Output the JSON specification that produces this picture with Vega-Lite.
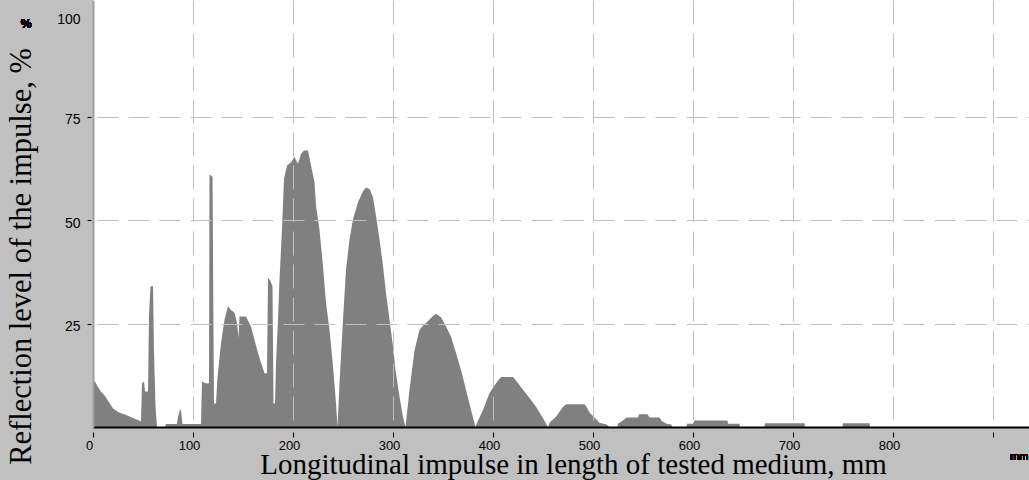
{
  "$schema": "https://vega.github.io/schema/vega-lite/v6.json",
  "width": 936,
  "height": 427,
  "autosize": {"type": "none"},
  "padding": {"left": 93, "top": 0, "right": 0, "bottom": 53},
  "background": "#c0c0c0",
  "config": {"view": {"fill": "#ffffff", "stroke": null}},
  "data": {"values": [
    {"mm":0,"pct":11},{"mm":2,"pct":11},{"mm":4,"pct":10},{"mm":8,"pct":8.5},{"mm":12,"pct":7.5},{"mm":16,"pct":6},{"mm":20,"pct":4.5},{"mm":26,"pct":3.5},{"mm":32,"pct":3},{"mm":40,"pct":2.2},{"mm":46,"pct":1.6},{"mm":48,"pct":1.3},{"mm":49,"pct":10.5},{"mm":51,"pct":11},{"mm":52,"pct":8.6},{"mm":55,"pct":8.6},{"mm":56,"pct":27},{"mm":57.5,"pct":34},{"mm":60,"pct":34},{"mm":61,"pct":18},{"mm":62.5,"pct":5},{"mm":64,"pct":0},{"mm":72,"pct":0},{"mm":73,"pct":0.7},{"mm":84,"pct":0.7},{"mm":85,"pct":2.5},{"mm":87,"pct":4.2},{"mm":88,"pct":4},{"mm":89.5,"pct":0.7},{"mm":108,"pct":0.7},{"mm":109,"pct":11},{"mm":113,"pct":10.5},{"mm":116,"pct":10.6},{"mm":116.5,"pct":61},{"mm":119.5,"pct":60.5},{"mm":120.5,"pct":23},{"mm":121,"pct":5.7},{"mm":123,"pct":5.7},{"mm":124.5,"pct":12},{"mm":128,"pct":20.3},{"mm":131.5,"pct":26},{"mm":135,"pct":29.2},{"mm":138,"pct":28.3},{"mm":141.5,"pct":27.6},{"mm":144,"pct":25.2},{"mm":145.5,"pct":21.6},{"mm":146.5,"pct":26.7},{"mm":153,"pct":26.7},{"mm":158,"pct":24.3},{"mm":161.5,"pct":21},{"mm":165,"pct":17.9},{"mm":168,"pct":15.5},{"mm":171.5,"pct":13},{"mm":174,"pct":13},{"mm":175,"pct":36},{"mm":177,"pct":35.5},{"mm":179.5,"pct":34},{"mm":180.5,"pct":5.7},{"mm":182,"pct":5.7},{"mm":183,"pct":15.5},{"mm":185,"pct":26},{"mm":186.5,"pct":35.7},{"mm":189,"pct":47.8},{"mm":191,"pct":60},{"mm":194,"pct":63.2},{"mm":198,"pct":64},{"mm":201.5,"pct":65.3},{"mm":203,"pct":64.5},{"mm":205,"pct":63.6},{"mm":208,"pct":66},{"mm":211,"pct":66.8},{"mm":215,"pct":66.8},{"mm":218,"pct":63.2},{"mm":221.5,"pct":59.2},{"mm":223,"pct":53.5},{"mm":226.5,"pct":47.7},{"mm":230,"pct":38.8},{"mm":233,"pct":30},{"mm":236.5,"pct":23.5},{"mm":240,"pct":14.6},{"mm":243,"pct":5.7},{"mm":244.5,"pct":0},{"mm":246.5,"pct":10.6},{"mm":250,"pct":26},{"mm":253,"pct":38},{"mm":256.5,"pct":45.3},{"mm":260,"pct":50.2},{"mm":265,"pct":54.3},{"mm":270,"pct":57},{"mm":273,"pct":57.9},{"mm":276.5,"pct":57.5},{"mm":280,"pct":55.5},{"mm":283,"pct":51},{"mm":286.5,"pct":45.4},{"mm":290,"pct":38.9},{"mm":293,"pct":32.4},{"mm":296.5,"pct":25.9},{"mm":300,"pct":19.5},{"mm":302.5,"pct":13.8},{"mm":306.5,"pct":7.3},{"mm":310,"pct":2.4},{"mm":312.5,"pct":0},{"mm":316.5,"pct":9},{"mm":321.5,"pct":18.5},{"mm":326.5,"pct":23.5},{"mm":330,"pct":24.5},{"mm":335,"pct":25.6},{"mm":340,"pct":26.8},{"mm":343,"pct":27.4},{"mm":348,"pct":26.5},{"mm":353,"pct":24.3},{"mm":358,"pct":21.9},{"mm":363,"pct":17.9},{"mm":368,"pct":13.8},{"mm":373,"pct":9},{"mm":378,"pct":4.1},{"mm":382.5,"pct":0},{"mm":385,"pct":1.5},{"mm":390,"pct":4.1},{"mm":396.5,"pct":8.2},{"mm":403,"pct":10.6},{"mm":408,"pct":12.1},{"mm":420,"pct":12.1},{"mm":425,"pct":10.6},{"mm":430,"pct":9},{"mm":436.5,"pct":7},{"mm":443,"pct":4.9},{"mm":450,"pct":2.1},{"mm":455,"pct":0},{"mm":456.5,"pct":1},{"mm":463,"pct":2.5},{"mm":470,"pct":4.9},{"mm":473.5,"pct":5.5},{"mm":491.5,"pct":5.5},{"mm":493.5,"pct":4.9},{"mm":496.5,"pct":3.5},{"mm":501.5,"pct":2.3},{"mm":506.5,"pct":1},{"mm":513.5,"pct":0.6},{"mm":516.5,"pct":0},{"mm":524.5,"pct":0},{"mm":525,"pct":0.8},{"mm":529.5,"pct":1.5},{"mm":533.5,"pct":2.3},{"mm":545,"pct":2.3},{"mm":546,"pct":3.1},{"mm":554.5,"pct":3.1},{"mm":556.5,"pct":2.3},{"mm":566.5,"pct":2.3},{"mm":568.5,"pct":1.5},{"mm":573.5,"pct":0.8},{"mm":578.5,"pct":0.6},{"mm":579,"pct":0},{"mm":593.5,"pct":0},{"mm":594,"pct":0.8},{"mm":600,"pct":0.8},{"mm":601.5,"pct":1.6},{"mm":634.5,"pct":1.6},{"mm":635,"pct":0.8},{"mm":646.5,"pct":0.8},{"mm":647,"pct":0},{"mm":671.5,"pct":0},{"mm":672,"pct":0.9},{"mm":711.5,"pct":0.9},{"mm":712,"pct":0},{"mm":749.5,"pct":0},{"mm":750,"pct":0.9},{"mm":776.5,"pct":0.9},{"mm":777,"pct":0},{"mm":935,"pct":0}
  ]},
  "layer": [
    {
      "mark": {"type": "area", "color": "#808080", "interpolate": "linear", "opacity": 1},
      "encoding": {
        "x": {
          "field": "mm", "type": "quantitative",
          "scale": {"domain": [0, 936], "nice": false, "zero": false},
          "axis": {
            "values": [0, 100, 200, 300, 400, 500, 600, 700, 800, 900],
            "title": "Longitudinal impulse in length of tested medium, mm",
            "titleFont": "Liberation Serif", "titleFontSize": 29, "titleFontWeight": "normal", "titleColor": "#000000",
            "titleX": 480, "titleY": 46, "titleAlign": "center", "titleBaseline": "alphabetic",
            "domainColor": "#000000", "domainWidth": 2,
            "tickColor": "#000000", "tickSize": 10, "tickWidth": 1, "tickDash": [0, 5, 5, 0],
            "labelFont": "Liberation Sans Narrow, Arial Narrow, Liberation Sans", "labelFontSize": 13, "labelColor": "#000000",
            "labelPadding": 2, "labelOffset": -4, "labelFlush": false, "labelBaseline": "top",
            "labelExpr": "datum.value == 900 ? '' : datum.label",
            "grid": true, "gridColor": "#c0c0c0", "gridDash": [24, 9], "gridWidth": 1,
            "gridOpacity": {"condition": {"test": "datum.value == 0", "value": 0}, "value": 1},
            "zindex": 1
          }
        },
        "y": {
          "field": "pct", "type": "quantitative",
          "scale": {"domain": [0, 103.2], "nice": false},
          "axis": {
            "values": [0, 25, 50, 75, 100],
            "title": "Reflection level of the impulse, %",
            "titleFont": "Liberation Serif", "titleFontSize": 30.5, "titleFontWeight": "normal", "titleColor": "#000000",
            "titleX": -63, "titleY": 256, "titleAngle": 270, "titleAlign": "center", "titleBaseline": "alphabetic",
            "domainColor": "#a0a0a0", "domainWidth": 2,
            "tickColor": "#000000", "tickSize": 6, "tickWidth": 1, "tickDash": [0, 2, 4, 0],
            "tickOpacity": {"condition": {"test": "datum.value == 0 || datum.value == 100", "value": 0}, "value": 1},
            "labelExpr": "datum.value == 0 ? '' : datum.label",
            "labelFont": "Liberation Sans", "labelFontSize": 14, "labelColor": "#000000",
            "labelPadding": 7,
            "labelOffset": {"condition": {"test": "datum.value == 100", "value": 6}, "value": 3},
            "grid": true, "gridColor": "#c0c0c0", "gridDash": [21, 10], "gridDashOffset": 27, "gridWidth": 1,
            "gridOpacity": {"condition": {"test": "datum.value == 0 || datum.value == 100", "value": 0}, "value": 1},
            "zindex": 1
          }
        }
      }
    },
    {
      "mark": {"type": "text", "text": "%", "font": "Liberation Sans", "fontSize": 12, "fontWeight": "normal", "color": "#000000", "align": "center", "baseline": "middle"},
      "encoding": {"x": {"datum": -67}, "y": {"datum": 97.5}}
    },
    {
      "mark": {"type": "text", "text": "mm", "font": "Liberation Sans", "fontSize": 11, "fontWeight": "normal", "color": "#000000", "align": "left", "baseline": "middle"},
      "encoding": {"x": {"datum": 917}, "y": {"datum": -7.3}}
    }
  ]
}
